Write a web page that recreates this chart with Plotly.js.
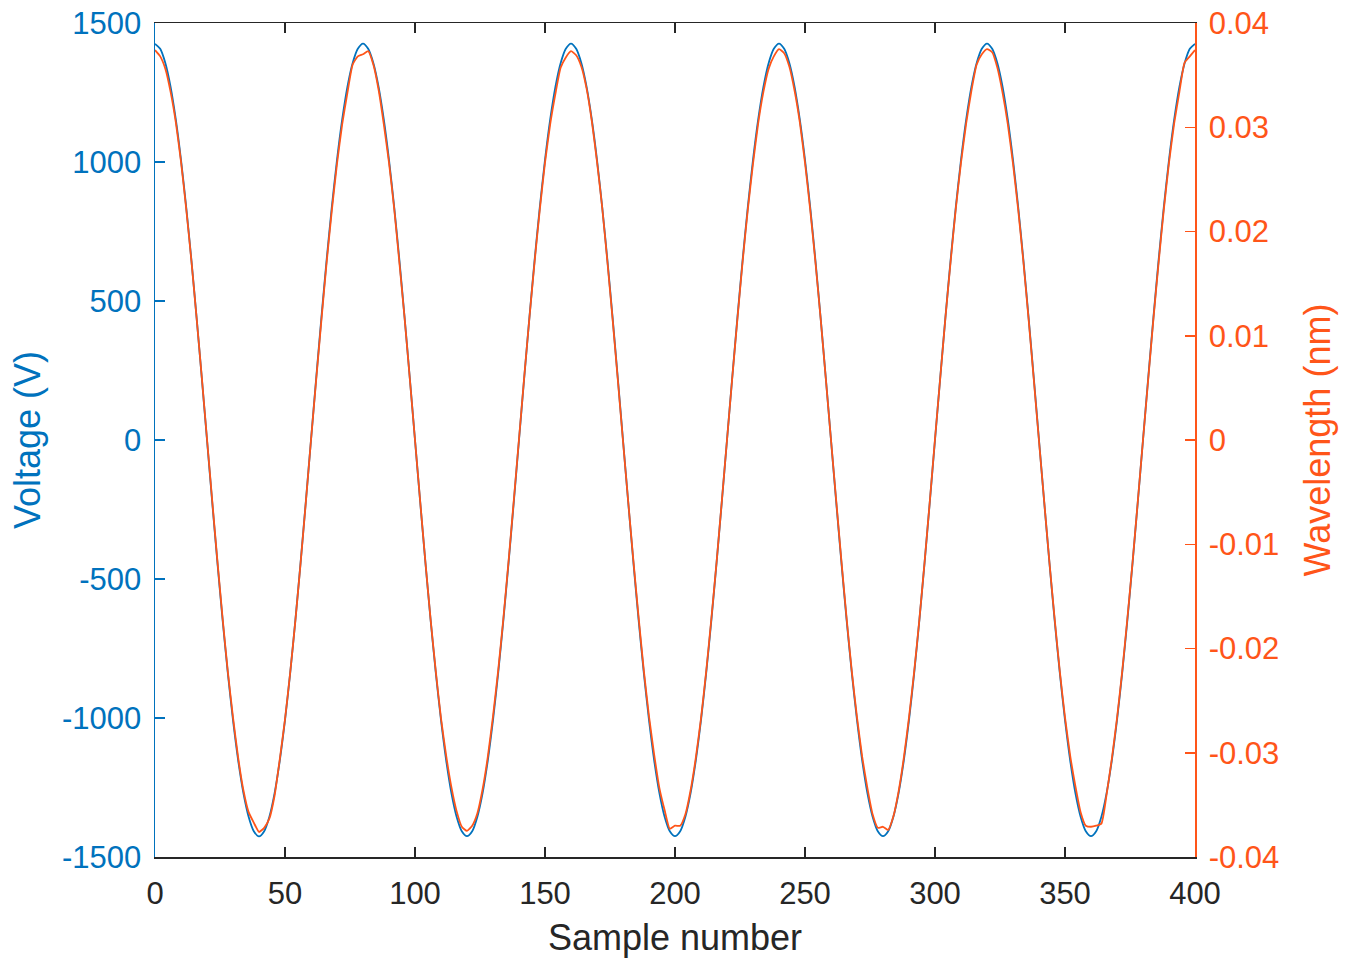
<!DOCTYPE html>
<html>
<head>
<meta charset="utf-8">
<script src="https://cdn.plot.ly/plotly-3.0.1.min.js"></script>
<style>
  html, body { margin: 0; padding: 0; background: #fff; }
  #chart { width: 1351px; height: 970px; }
</style>
</head>
<body>
<div id="chart"></div>
<script>
/***********
  DATA
************/

// Sample numbers run 0..400, one reading every 2 samples
let sampleStart = 0;
let sampleStep = 2;

// Voltage (V)
let voltage = [
  1425, 1407, 1355, 1270, 1153, 1008, 838, 647, 440, 223,
  0, -223, -440, -647, -838, -1008, -1153, -1270, -1355, -1407,
  -1426, -1407, -1355, -1270, -1153, -1008, -838, -647, -440, -223,
  0, 223, 440, 647, 838, 1008, 1153, 1270, 1355, 1407,
  1426, 1407, 1355, 1270, 1153, 1008, 838, 647, 440, 223,
  0, -223, -440, -647, -838, -1008, -1153, -1270, -1355, -1407,
  -1425, -1407, -1355, -1270, -1153, -1008, -838, -647, -440, -223,
  0, 223, 440, 647, 838, 1008, 1153, 1270, 1355, 1407,
  1426, 1407, 1355, 1270, 1153, 1008, 838, 647, 440, 223,
  0, -223, -440, -647, -838, -1008, -1153, -1270, -1355, -1407,
  -1425, -1407, -1355, -1270, -1153, -1008, -838, -647, -440, -223,
  0, 223, 440, 647, 838, 1008, 1153, 1270, 1355, 1407,
  1426, 1407, 1355, 1270, 1153, 1008, 838, 647, 440, 223,
  0, -223, -440, -647, -838, -1008, -1153, -1270, -1355, -1407,
  -1425, -1407, -1355, -1270, -1153, -1008, -838, -647, -440, -223,
  0, 223, 440, 647, 838, 1008, 1153, 1270, 1355, 1407,
  1426, 1407, 1355, 1270, 1153, 1008, 838, 647, 440, 223,
  0, -223, -440, -647, -838, -1008, -1153, -1270, -1355, -1407,
  -1425, -1407, -1355, -1270, -1153, -1008, -838, -647, -440, -223,
  0, 223, 440, 647, 838, 1008, 1153, 1270, 1355, 1407,
  1425
];

// Wavelength (nm)
let wavelength = [
  0.0374, 0.0368, 0.0356, 0.0334, 0.0305, 0.0267, 0.0222, 0.0172, 0.0117, 0.0060,
  0.0001, -0.0058, -0.0116, -0.0171, -0.0222, -0.0266, -0.0305, -0.0336, -0.0357, -0.0367,
  -0.0376, -0.0372, -0.0363, -0.0341, -0.0306, -0.0268, -0.0223, -0.0173, -0.0118, -0.0060,
  0.0000, 0.0058, 0.0115, 0.0170, 0.0220, 0.0265, 0.0303, 0.0333, 0.0360, 0.0368,
  0.0370, 0.0373, 0.0360, 0.0336, 0.0303, 0.0266, 0.0222, 0.0170, 0.0117, 0.0059,
  0.0000, -0.0059, -0.0117, -0.0172, -0.0222, -0.0267, -0.0303, -0.0333, -0.0356, -0.0371,
  -0.0375, -0.0370, -0.0358, -0.0335, -0.0304, -0.0265, -0.0221, -0.0171, -0.0116, -0.0058,
  0.0001, 0.0060, 0.0117, 0.0171, 0.0221, 0.0266, 0.0303, 0.0332, 0.0357, 0.0367,
  0.0373, 0.0369, 0.0358, 0.0337, 0.0306, 0.0267, 0.0223, 0.0171, 0.0116, 0.0058,
  -0.0001, -0.0059, -0.0116, -0.0170, -0.0221, -0.0265, -0.0302, -0.0334, -0.0355, -0.0373,
  -0.0370, -0.0370, -0.0359, -0.0336, -0.0305, -0.0267, -0.0222, -0.0171, -0.0117, -0.0059,
  0.0000, 0.0059, 0.0116, 0.0171, 0.0221, 0.0265, 0.0304, 0.0334, 0.0356, 0.0368,
  0.0375, 0.0371, 0.0358, 0.0335, 0.0305, 0.0266, 0.0221, 0.0171, 0.0117, 0.0059,
  0.0000, -0.0058, -0.0116, -0.0171, -0.0222, -0.0266, -0.0304, -0.0334, -0.0359, -0.0372,
  -0.0371, -0.0374, -0.0361, -0.0337, -0.0305, -0.0266, -0.0222, -0.0172, -0.0117, -0.0059,
  0.0001, 0.0059, 0.0117, 0.0171, 0.0222, 0.0266, 0.0304, 0.0335, 0.0360, 0.0370,
  0.0375, 0.0372, 0.0357, 0.0333, 0.0303, 0.0265, 0.0221, 0.0171, 0.0116, 0.0058,
  -0.0001, -0.0059, -0.0117, -0.0171, -0.0222, -0.0266, -0.0303, -0.0332, -0.0357, -0.0370,
  -0.0371, -0.0370, -0.0368, -0.0340, -0.0306, -0.0267, -0.0222, -0.0171, -0.0117, -0.0059,
  0.0000, 0.0058, 0.0116, 0.0170, 0.0221, 0.0266, 0.0304, 0.0334, 0.0362, 0.0368,
  0.0374
];

// Tick labels
let xTicks = [0, 50, 100, 150, 200, 250, 300, 350, 400];
let voltTicks = [-1500, -1000, -500, 0, 500, 1000, 1500];
let voltLabels = ['-1500', '-1000', '-500', '0', '500', '1000', '1500'];
let waveTicks = [-0.04, -0.03, -0.02, -0.01, 0, 0.01, 0.02, 0.03, 0.04];
let waveLabels = ['-0.04', '-0.03', '-0.02', '-0.01', '0', '0.01', '0.02', '0.03', '0.04'];

/***********
  PLOT
************/

const BLUE = '#0072BD';
const ORANGE = '#FF5519';
const DARK = '#262626';
const FONT = 'Liberation Sans, Arial, sans-serif';

function drawChart() {
  let traceVolt = {
    y: voltage, x0: sampleStart, dx: sampleStep,
    type: 'scatter', mode: 'lines',
    line: { color: BLUE, width: 1.8, shape: 'spline', smoothing: 0.8 },
    yaxis: 'y', hoverinfo: 'skip'
  };

  let traceWave = {
    y: wavelength, x0: sampleStart, dx: sampleStep,
    type: 'scatter', mode: 'lines',
    line: { color: ORANGE, width: 1.8, shape: 'spline', smoothing: 0.5 },
    yaxis: 'y2', hoverinfo: 'skip'
  };

  let layout = {
    width: 1351, height: 970,
    margin: { l: 155, r: 156, t: 23, b: 113 },
    paper_bgcolor: '#fff', plot_bgcolor: '#fff',
    showlegend: false,
    font: { family: FONT, size: 31, color: DARK },
    xaxis: {
      range: [0, 400], tickvals: xTicks,
      ticks: 'inside', ticklen: 10, tickwidth: 1.5, tickcolor: DARK,
      ticklabelstandoff: 8,
      showline: true, linecolor: DARK, linewidth: 1.5, mirror: 'ticks',
      showgrid: false, zeroline: false,
      tickfont: { size: 31, color: DARK },
      title: { text: 'Sample number', font: { size: 36, color: DARK }, standoff: 15 }
    },
    yaxis: {
      range: [-1500, 1500], tickvals: voltTicks, ticktext: voltLabels,
      ticks: 'inside', ticklen: 10, tickwidth: 1.5, tickcolor: BLUE,
      ticklabelstandoff: 6,
      showline: true, linecolor: BLUE, linewidth: 1.5,
      showgrid: false, zeroline: false,
      tickfont: { size: 31, color: BLUE },
      title: { text: 'Voltage (V)', font: { size: 36, color: BLUE }, standoff: 10 }
    },
    yaxis2: {
      overlaying: 'y', side: 'right',
      range: [-0.04, 0.04], tickvals: waveTicks, ticktext: waveLabels,
      ticks: 'inside', ticklen: 10, tickwidth: 1.5, tickcolor: ORANGE,
      ticklabelstandoff: 6,
      showline: true, linecolor: ORANGE, linewidth: 1.5,
      showgrid: false, zeroline: false,
      tickfont: { size: 31, color: ORANGE },
      title: { text: 'Wavelength (nm)', font: { size: 36, color: ORANGE }, standoff: 26 }
    }
  };

  Plotly.newPlot('chart', [traceVolt, traceWave], layout, { displayModeBar: false, staticPlot: true });
}

drawChart();
</script>
</body>
</html>
